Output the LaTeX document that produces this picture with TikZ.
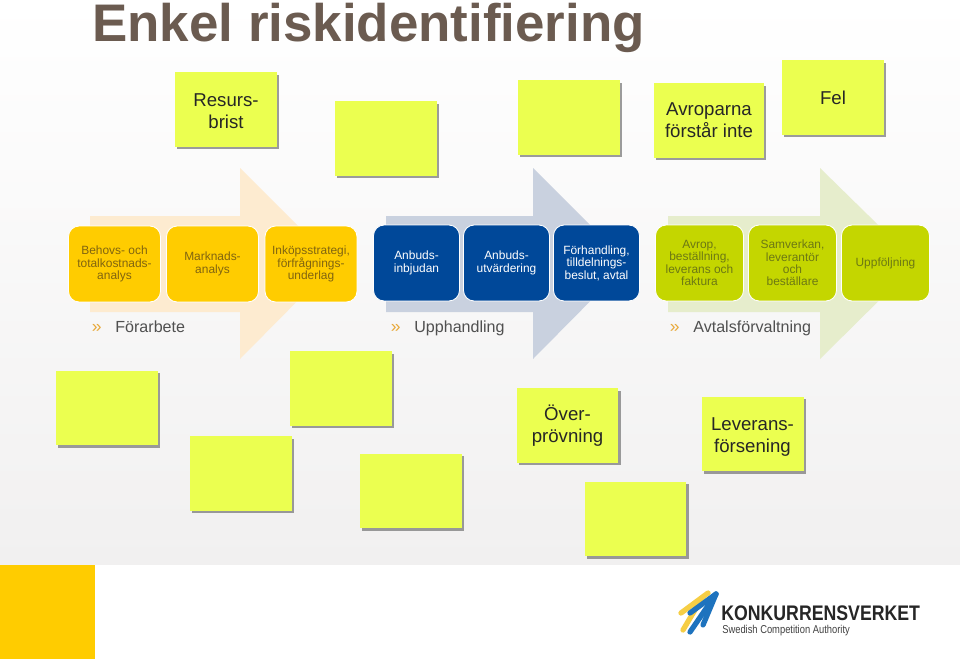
\documentclass[tikz,border=0pt]{standalone}
\usepackage{fontspec}
\setmainfont{Liberation Sans}
\usetikzlibrary{arrows.meta,positioning,calc,shadows}
\definecolor{rkNote}{HTML}{EBFF50}
\definecolor{rkPaper}{HTML}{F1F0F0}
\definecolor{rkTitle}{HTML}{6B5B50}
\definecolor{rkGold}{HTML}{FFCC00}
\definecolor{rkGoldText}{HTML}{806410}
\definecolor{rkNavy}{HTML}{004899}
\definecolor{rkLime}{HTML}{C4D600}
\definecolor{rkLimeText}{HTML}{6C7814}
\definecolor{rkInk}{HTML}{505050}
\definecolor{rkAmber}{HTML}{E8A93A}
\definecolor{rkBlue}{HTML}{1E73BE}
\definecolor{rkSun}{HTML}{F6CE45}
\newcommand{\lowtext}[1]{\rule{0pt}{#1}}
\tikzset{
  note/.style    ={fill=rkNote,minimum width=2.04cm,minimum height=1.49cm,inner sep=0pt,
                   align=center,font=\fontsize{10.6}{12.6}\selectfont,text=black!85,
                   drop shadow={shadow xshift=1.3pt,shadow yshift=-1.3pt,fill=black!55,opacity=.7}},
  stepbox/.style ={draw=white,line width=0.5pt,rounded corners=6pt,minimum height=1.52cm,
                   inner sep=0pt,align=center,font=\fontsize{6.8}{7.1}\selectfont},
  goldbox/.style ={stepbox,fill=rkGold,text=rkGoldText,minimum width=1.84cm},
  navybox/.style ={stepbox,fill=rkNavy,text=white,minimum width=1.72cm},
  limebox/.style ={stepbox,fill=rkLime,text=rkLimeText,minimum width=1.76cm},
  phase/.style   ={anchor=base west,inner sep=0pt,font=\fontsize{9.15}{10}\selectfont,text=rkInk},
  chevron/.style ={anchor=base east,inner sep=0pt,font=\fontsize{10}{10}\selectfont,text=rkAmber},
}
\begin{document}
\begin{tikzpicture}[x=0.02cm,y=-0.02cm]
\useasboundingbox (0,0) rectangle (960,659);
\shade[top color=white,bottom color=rkPaper] (0,0) rectangle (960,565);
\fill[white] (0,565) rectangle (960,659);
\fill[rkGold] (0,565) rectangle (95,659);

\node[anchor=base west,inner sep=0pt,font=\bfseries\fontsize{30.1}{32}\selectfont,text=rkTitle] (title) at (92,41)
  {Enkel riskidentifiering};

% big arrows behind the steps
\foreach \x/\h/\t/\c in {90/240/335/FDEBD0, 386/533/628/C9D1DF, 668/820/917/E6EDCC}
  { \definecolor{tmp}{HTML}{\c}
    \fill[tmp] (\x,216) -- (\h,216) -- (\h,168) -- (\t,263) -- (\h,359) -- (\h,312) -- (\x,312) -- cycle; }

\node[goldbox] (behov) at (114.5,264) {Behovs- och\\totalkostnads-\\analys};
\node[goldbox] (marknad) at (212.5,264) {Marknads-\\analys};
\node[goldbox] (inkop) at (311,264) {Inköpsstrategi,\\förfrågnings-\\underlag};
\node[navybox] (inbjudan) at (416.5,263) {Anbuds-\\inbjudan};
\node[navybox] (utvardering) at (506.5,263) {Anbuds-\\utvärdering};
\node[navybox] (avtal) at (596.5,263) {Förhandling,\\tilldelnings-\\beslut, avtal};
\node[limebox] (avrop) at (699.5,263) {Avrop,\\beställning,\\leverans och\\faktura};
\node[limebox] (samverkan) at (792.5,263) {Samverkan,\\leverantör\\och\\beställare};
\node[limebox] (uppfoljning) at (885.5,263) {Uppföljning};

\node[phase] (forarbete) at (115,332) {Förarbete};
\node[chevron] (forarbeteb) at (102,332) {»};
\node[phase] (upphandling) at (414,332) {Upphandling};
\node[chevron] (upphandlingb) at (401,332) {»};
\node[phase] (avtalsforv) at (693,332) {Avtalsförvaltning};
\node[chevron] (avtalsforvb) at (680,332) {»};

% notes
\node[note] (resurs) at (226,109.5) {\lowtext{9pt}Resurs-\\brist};
\node[note] (blankA) at (386,138.5) {};
\node[note] (blankB) at (569,117.5) {};
\node[note,minimum width=2.2cm] (avroparna) at (709,120.5) {Avroparna\\förstår inte};
\node[note] (fel) at (833,97.5) {Fel};
\node[note] (blankC) at (107,408) {};
\node[note] (blankD) at (241,473.5) {};
\node[note] (blankE) at (341,388.5) {};
\node[note] (blankF) at (411,491) {};
\node[note] (overprovning) at (567.5,425.5) {Över-\\prövning};
\node[note] (blankG) at (635.5,519) {};
\node[note] (leverans) at (752.5,434) {\lowtext{10.5pt}Leverans-\\försening};

% logo
\foreach \a/\b/\p/\q in {681/613/708/593, 683/630/702/598}
  { \draw[rkSun,line width=3pt,line cap=round] (\a,\b) -- (\p,\q); }
\foreach \a/\b in {690/613, 690/632, 703/625}
  { \draw[rkBlue,line width=3pt,line cap=round] (\a,\b) -- (716,594); }
\node[anchor=base west,inner sep=0pt,font=\bfseries\fontsize{12}{14}\selectfont,xscale=.84,text=black!85] (konkurrens) at (721,620.5) {KONKURRENSVERKET};
\node[anchor=base west,inner sep=0pt,font=\fontsize{6.5}{8}\selectfont,xscale=.82,text=black!75] (swedish) at (722,633.5) {Swedish Competition Authority};
\end{tikzpicture}
\end{document}
